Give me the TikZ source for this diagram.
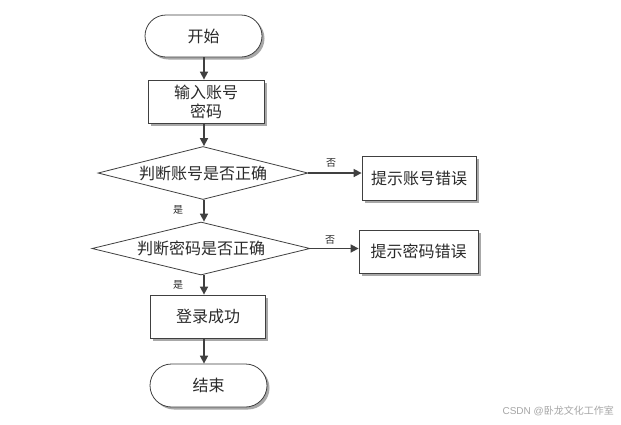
\documentclass[tikz,border=0pt]{standalone}
\usepackage{fontspec}
\setmainfont{Noto Sans CJK SC}
\usetikzlibrary{shapes.geometric,shapes.misc,arrows.meta,shadows}
\definecolor{linec}{HTML}{404040}
\definecolor{textc}{HTML}{2A2A2A}
\definecolor{shadc}{HTML}{A8A8A8}
\tikzset{
  base/.style={draw=linec, line width=0.8pt, fill=white, text=textc, inner sep=0pt,
    font=\fontsize{16}{19}\selectfont, align=center},
  shad/.style={general shadow={fill=shadc, shadow xshift=2.5pt, shadow yshift=-2.5pt}},
  term/.style={base, shad, rounded rectangle},
  procbox/.style={base, shad, rectangle},
  decis/.style={base, diamond, shape aspect=4, inner sep=0pt},
  flow/.style={draw=linec, line width=1.6pt, -{Triangle[length=8pt,width=8pt]}},
  lbl/.style={text=textc, font=\fontsize{10}{12}\selectfont, inner sep=0pt},
}
\begin{document}
\begin{tikzpicture}[x=1pt,y=-1pt]
\useasboundingbox (0,0) rectangle (621,424);
\fill[white] (0,0) rectangle (621,424);
\node[term, minimum width=117pt, minimum height=42pt] (start) at (203.5,36) {开始};
\node[procbox, minimum width=116pt, minimum height=43pt] (input) at (206,101.5) {输入账号\\密码};
\node[decis, minimum width=210pt, minimum height=53pt] (d1) at (203,173) {判断账号是否正确};
\node[procbox, minimum width=114pt, minimum height=44pt] (e1) at (419,178) {提示账号错误};
\node[decis, minimum width=218pt, minimum height=53pt] (d2) at (201,248.5) {判断密码是否正确};
\node[procbox, minimum width=119pt, minimum height=43pt] (e2) at (418.5,251.5) {提示密码错误};
\node[procbox, minimum width=115pt, minimum height=43pt] (ok) at (208,316.5) {登录成功};
\node[term, minimum width=117pt, minimum height=43pt] (end) at (208.5,385.5) {结束};
\coordinate (col) at (204,0);
\draw[flow] (start.south -| col) -- (input.north -| col);
\draw[flow] (input.south -| col) -- (d1.north -| col);
\draw[flow] (d1.south -| col) -- (d2.north -| col);
\draw[flow] (d2.south -| col) -- (ok.north -| col);
\draw[flow] (ok.south -| col) -- (end.north -| col);
\draw[flow] (d1.east) -- (d1.east -| e1.west);
\draw[flow] (d2.east) -- (d2.east -| e2.west);
\node[lbl] (no1) at (331,163) {否};
\node[lbl] (no2) at (330,240) {否};
\node[lbl] (yes1) at (178,210) {是};
\node[lbl] (yes2) at (178,285) {是};
\node[text=gray!70, font=\fontsize{10}{12}\selectfont, inner sep=0pt, anchor=east] (wm) at (614,411) {\fontspec{Liberation Sans}CSDN @\fontspec{Noto Sans CJK SC}卧龙文化工作室};
\end{tikzpicture}
\end{document}
